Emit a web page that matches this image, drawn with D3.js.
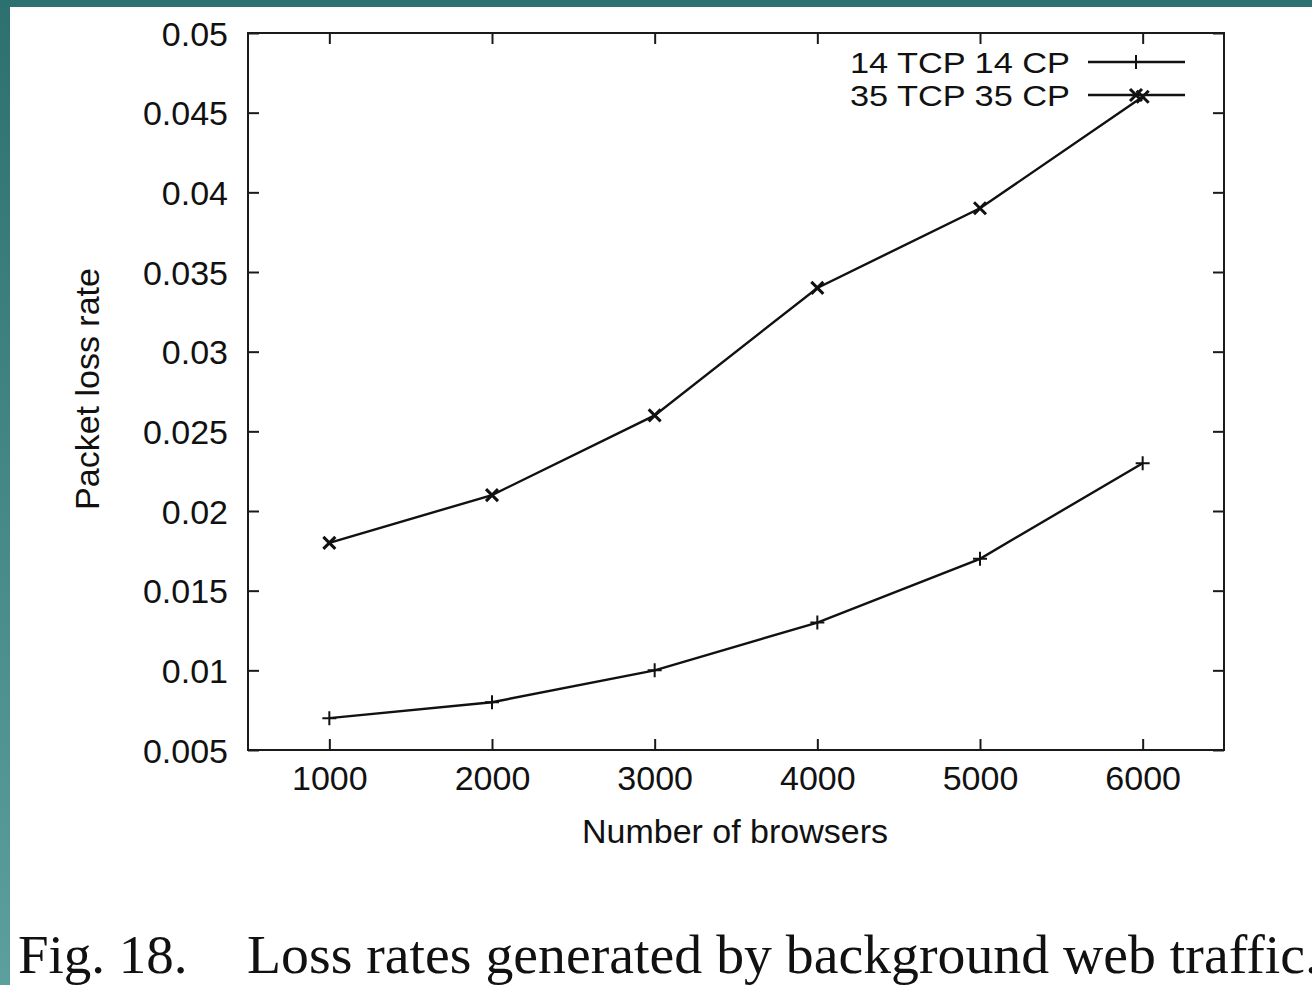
<!DOCTYPE html>
<html>
<head>
<meta charset="utf-8">
<script src="https://cdn.jsdelivr.net/npm/d3@7"></script>
<style>
  html, body { margin: 0; padding: 0; background: #fff; }
  svg { display: block; }
</style>
</head>
<body>
<svg id="chart"></svg>
<script>
let browsers = [1000, 2000, 3000, 4000, 5000, 6000];
let loss14 = [0.007, 0.008, 0.010, 0.013, 0.017, 0.023];
let loss35 = [0.018, 0.021, 0.026, 0.034, 0.039, 0.046];
let seriesNames = ['14 TCP 14 CP', '35 TCP 35 CP'];
let yTicks = [0.005, 0.01, 0.015, 0.02, 0.025, 0.03, 0.035, 0.04, 0.045, 0.05];
let yTickLabels = ['0.005', '0.01', '0.015', '0.02', '0.025', '0.03', '0.035', '0.04', '0.045', '0.05'];
let xTicks = [1000, 2000, 3000, 4000, 5000, 6000];

function createGraph() {
  let width = 1312;
  let height = 985;
  let margin = { top: 33, bottom: 235, left: 248, right: 88 };

  let svg = d3.select('#chart');
  svg.selectAll('*').remove();
  svg.attr('width', width).attr('height', height);

  // slide frame: teal band on top and left
  let defs = svg.append('defs');
  let grad = defs.append('linearGradient')
    .attr('id', 'side')
    .attr('x1', 0).attr('y1', 0).attr('x2', 0).attr('y2', 1);
  grad.append('stop').attr('offset', '0%').attr('stop-color', '#2c7070');
  grad.append('stop').attr('offset', '100%').attr('stop-color', '#5c9f9f');

  svg.append('rect').attr('x', 0).attr('y', 0).attr('width', width).attr('height', 7).attr('fill', '#2d7272');
  svg.append('rect').attr('x', 0).attr('y', 0).attr('width', 10).attr('height', height).attr('fill', 'url(#side)');

  let xScale = d3.scaleLinear()
    .domain([500, 6500])
    .range([margin.left, width - margin.right]);

  let yScale = d3.scaleLinear()
    .domain([0.005, 0.05])
    .range([height - margin.bottom, margin.top]);

  let font = '"Liberation Sans", Arial, Helvetica, sans-serif';

  // axes with inward ticks
  let left = svg.append('g')
    .attr('transform', `translate(${margin.left}, 0)`)
    .call(d3.axisLeft(yScale).tickValues(yTicks).tickSizeInner(-11).tickSizeOuter(0)
      .tickPadding(20).tickFormat((d, i) => yTickLabels[i]));

  let bottom = svg.append('g')
    .attr('transform', `translate(0, ${height - margin.bottom})`)
    .call(d3.axisBottom(xScale).tickValues(xTicks).tickSizeInner(-11).tickSizeOuter(0)
      .tickPadding(20).tickFormat(d3.format('d')));

  let right = svg.append('g')
    .attr('transform', `translate(${width - margin.right}, 0)`)
    .call(d3.axisRight(yScale).tickValues(yTicks).tickSizeInner(-11).tickSizeOuter(0).tickFormat(''));

  let top = svg.append('g')
    .attr('transform', `translate(0, ${margin.top})`)
    .call(d3.axisTop(xScale).tickValues(xTicks).tickSizeInner(-11).tickSizeOuter(0).tickFormat(''));

  [left, bottom, right, top].forEach(g => {
    g.select('.domain').remove();
    g.selectAll('line').attr('stroke', '#1a1a1a').attr('stroke-width', 2);
    g.selectAll('text')
      .style('font-family', font)
      .style('font-size', '34px')
      .style('fill', '#111');
  });
  left.selectAll('text').attr('dy', '0.36em');
  bottom.selectAll('text').attr('dy', '0.71em').attr('y', 16);

  // frame
  svg.append('rect')
    .attr('x', margin.left)
    .attr('y', margin.top)
    .attr('width', width - margin.left - margin.right)
    .attr('height', height - margin.top - margin.bottom)
    .attr('fill', 'none')
    .attr('stroke', '#1a1a1a')
    .attr('stroke-width', 2);

  // axis titles
  svg.append('text')
    .attr('x', 735)
    .attr('y', 843)
    .text('Number of browsers')
    .style('text-anchor', 'middle')
    .style('font-family', font)
    .style('font-size', '34px')
    .style('fill', '#111');

  svg.append('text')
    .attr('transform', 'translate(99, 389) rotate(-90)')
    .text('Packet loss rate')
    .style('text-anchor', 'middle')
    .style('font-family', font)
    .style('font-size', '34px')
    .style('fill', '#111');

  // lines
  let line = d3.line()
    .x(d => xScale(d[0]))
    .y(d => yScale(d[1]));

  let series = [
    browsers.map((b, i) => [b, loss14[i]]),
    browsers.map((b, i) => [b, loss35[i]])
  ];

  series.forEach(s => {
    svg.append('path')
      .datum(s)
      .attr('d', line)
      .attr('fill', 'none')
      .attr('stroke', '#111')
      .attr('stroke-width', 2.4);
  });

  function plus(g, x, y, r) {
    g.append('path')
      .attr('d', `M${x - r},${y}H${x + r}M${x},${y - r}V${y + r}`)
      .attr('stroke', '#111').attr('stroke-width', 2).attr('fill', 'none');
  }
  function cross(g, x, y, r) {
    g.append('path')
      .attr('d', `M${x - r},${y - r}L${x + r},${y + r}M${x - r},${y + r}L${x + r},${y - r}`)
      .attr('stroke', '#111').attr('stroke-width', 3).attr('fill', 'none');
  }

  let marks = svg.append('g');
  series[0].forEach(d => plus(marks, xScale(d[0]), yScale(d[1]), 7));
  series[1].forEach(d => cross(marks, xScale(d[0]), yScale(d[1]), 6));

  // legend
  let legY = [62, 95];
  seriesNames.forEach((name, i) => {
    svg.append('text')
      .attr('x', 1070)
      .attr('y', legY[i] + 11)
      .text(name)
      .attr('textLength', 220)
      .attr('lengthAdjust', 'spacingAndGlyphs')
      .style('text-anchor', 'end')
      .style('font-family', font)
      .style('font-size', '29px')
      .style('fill', '#111');
    svg.append('line')
      .attr('x1', 1088).attr('x2', 1185)
      .attr('y1', legY[i]).attr('y2', legY[i])
      .attr('stroke', '#111').attr('stroke-width', 2.4);
  });
  plus(svg, 1136, legY[0], 7);
  cross(svg, 1136, legY[1], 6);

  // caption
  let serif = '"Liberation Serif", "Times New Roman", serif';
  svg.append('text')
    .attr('x', 18).attr('y', 973)
    .text('Fig. 18.')
    .style('font-family', serif)
    .style('font-size', '55px')
    .style('fill', '#111');
  svg.append('text')
    .attr('x', 247).attr('y', 973)
    .text('Loss rates generated by background web traffic.')
    .attr('textLength', 1072)
    .attr('lengthAdjust', 'spacingAndGlyphs')
    .style('font-family', serif)
    .style('font-size', '55px')
    .style('fill', '#111');
}

createGraph();
</script>
</body>
</html>
